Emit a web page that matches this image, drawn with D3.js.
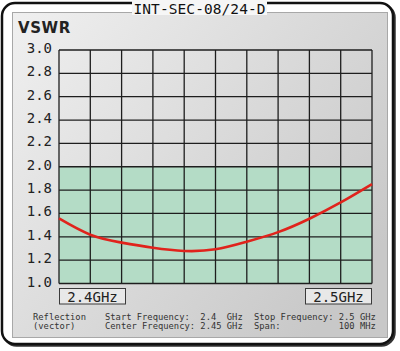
<!DOCTYPE html>
<html>
<head>
<meta charset="utf-8">
<script src="https://cdn.jsdelivr.net/npm/d3@7"></script>
<style>
  body { margin: 0; background: #fff; }
  text { font-family: "DejaVu Sans Mono", monospace; }
</style>
</head>
<body>
<script>
const width = 400, height = 351;

// data
const freqs = [2.40, 2.41, 2.42, 2.43, 2.44, 2.45, 2.46, 2.47, 2.48, 2.49, 2.50];
const vswr  = [1.557, 1.418, 1.350, 1.306, 1.279, 1.293, 1.358, 1.440, 1.555, 1.694, 1.851];
const yTicks = [1.0, 1.2, 1.4, 1.6, 1.8, 2.0, 2.2, 2.4, 2.6, 2.8, 3.0];
const xTicks = [2.40, 2.41, 2.42, 2.43, 2.44, 2.45, 2.46, 2.47, 2.48, 2.49, 2.50];
const passLimit = 2.0;
const title = "INT-SEC-08/24-D";
const startLabel = "2.4GHz", stopLabel = "2.5GHz";
const footLeft = ["Reflection", "(vector)"];
const footMid = ["Start Frequency:  2.4  GHz", "Center Frequency: 2.45 GHz"];
const footRight = ["Stop Frequency: 2.5 GHz", "Span:           100 MHz"];

const svg = d3.select("body").append("svg").attr("width", width).attr("height", height);

const defs = svg.append("defs");
const grad = defs.append("linearGradient").attr("id", "panel")
    .attr("x1", 0).attr("y1", 0).attr("x2", 1).attr("y2", 0.7);
grad.append("stop").attr("offset", "0%").attr("stop-color", "#f0f0f0");
grad.append("stop").attr("offset", "100%").attr("stop-color", "#c8c8c8");

// outer frame with shadow
svg.append("rect").attr("x", 3.5).attr("y", 4.5).attr("width", 391).attr("height", 341)
    .attr("rx", 13).attr("fill", "none").attr("stroke", "#333").attr("stroke-width", 2.5);
svg.append("rect").attr("x", 2).attr("y", 3).attr("width", 391).attr("height", 341)
    .attr("rx", 13).attr("fill", "#fff").attr("stroke", "#111").attr("stroke-width", 2.5);

// inner panel
svg.append("rect").attr("x", 12.5).attr("y", 12.5).attr("width", 375).attr("height", 325)
    .attr("fill", "url(#panel)").attr("stroke", "#a8a8a8").attr("stroke-width", 1);

// title tab
svg.append("rect").attr("x", 132).attr("y", 0).attr("width", 135).attr("height", 15)
    .attr("fill", "#f6f6f6");
svg.append("text").attr("x", 133.5).attr("y", 14).attr("font-size", 14.5)
    .attr("textLength", 132).attr("fill", "#111").text(title);

// y-axis title
svg.append("text").attr("x", 18).attr("y", 32.5)
    .style("font-family", "'DejaVu Sans', sans-serif").attr("font-weight", "bold")
    .attr("font-size", 15).attr("letter-spacing", 0.6).attr("fill", "#222").text("VSWR");

const x = d3.scaleLinear().domain([2.40, 2.50]).range([59, 372]);
const y = d3.scaleLinear().domain([1.0, 3.0]).range([283.5, 50]);

// pass band
svg.append("rect").attr("x", x(2.40)).attr("y", y(passLimit))
    .attr("width", x(2.50) - x(2.40)).attr("height", y(1.0) - y(passLimit))
    .attr("fill", "#b4dcc6");

// grid
const grid = svg.append("g").attr("stroke", "#1e1e1e").attr("stroke-width", 1.3);
grid.selectAll("line.v").data(xTicks).enter().append("line")
    .attr("x1", d => x(d)).attr("x2", d => x(d))
    .attr("y1", y(3.0)).attr("y2", y(1.0));
grid.selectAll("line.h").data(yTicks).enter().append("line")
    .attr("x1", x(2.40)).attr("x2", x(2.50))
    .attr("y1", d => y(d)).attr("y2", d => y(d));

// y tick labels
svg.append("g").selectAll("text").data(yTicks).enter().append("text")
    .attr("x", 52).attr("y", d => y(d) + 3)
    .attr("text-anchor", "end").attr("font-size", 14).attr("fill", "#222")
    .text(d => d.toFixed(1));

// curve
const line = d3.line().x((d, i) => x(freqs[i])).y(d => y(d)).curve(d3.curveNatural);
svg.append("path").datum(vswr).attr("d", line)
    .attr("fill", "none").attr("stroke", "#e0231c").attr("stroke-width", 2.6);

// frequency boxes
[[startLabel, x(2.40), "start"], [stopLabel, x(2.50), "end"]].forEach(([lbl, px, side]) => {
    const bw = 66, bx = side === "start" ? px + 0.5 : px - bw - 0.5;
    svg.append("rect").attr("x", bx).attr("y", 288.5).attr("width", bw).attr("height", 15.5)
        .attr("fill", "#e8e8e8").attr("stroke", "#3a3a3a").attr("stroke-width", 1);
    svg.append("text").attr("x", bx + bw / 2).attr("y", 301.5).attr("text-anchor", "middle")
        .attr("font-size", 14).attr("fill", "#222").text(lbl);
});

// footer (non-breaking spaces keep the column alignment)
const foot = svg.append("g").attr("font-size", 8.8).attr("fill", "#333");
[[footLeft, 33], [footMid, 105], [footRight, 254]].forEach(([lines, fx]) => {
    foot.selectAll(null).data(lines).enter().append("text")
        .attr("x", fx).attr("y", (d, i) => 320 + i * 9).text(d => d.replace(/ /g, "\u00a0"));
});
</script>
</body>
</html>
